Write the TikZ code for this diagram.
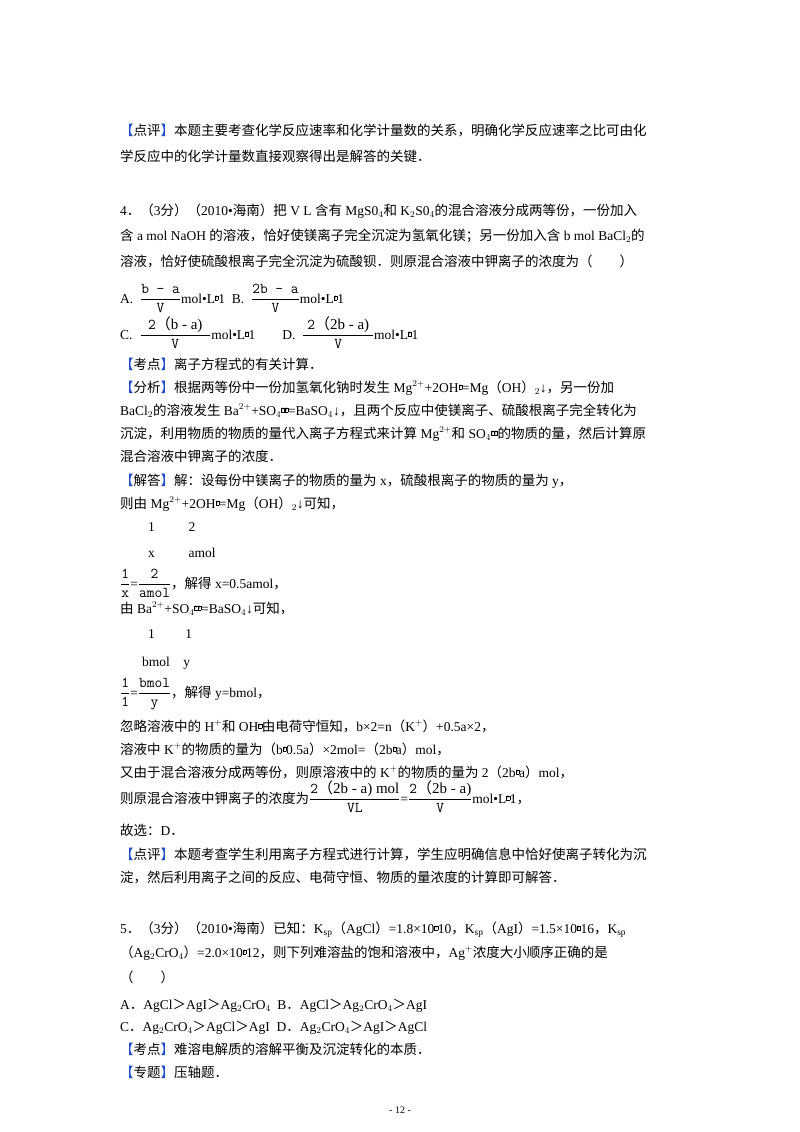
\documentclass[tikz,border=0pt]{standalone}
\usepackage{fontspec}
\usepackage{amsmath}
\setmainfont{Liberation Serif}
\newfontfamily\cjk{Noto Sans CJK SC}
\XeTeXinterchartokenstate=1
\newXeTeXintercharclass\cjkclass
\newcount\cc
\cc="4E00 \loop\ifnum\cc<"9FFF \XeTeXcharclass\cc=\cjkclass \advance\cc 1 \repeat
\cc="3000 \loop\ifnum\cc<"3040 \XeTeXcharclass\cc=\cjkclass \advance\cc 1 \repeat
\cc="FF00 \loop\ifnum\cc<"FFF0 \XeTeXcharclass\cc=\cjkclass \advance\cc 1 \repeat
\XeTeXinterchartoks 0 \cjkclass={\cjk}
\XeTeXinterchartoks 4095 \cjkclass={\cjk}
\XeTeXinterchartoks \cjkclass 0={\rmfamily}
\XeTeXinterchartoks \cjkclass 4095={\rmfamily}
\newcommand\qm{{\setlength\fboxsep{0.3pt}\setlength\fboxrule{0.3pt}\raisebox{0.5ex}{\fbox{\fontsize{5}{5}\selectfont ?}}}}
\newcommand\bk[1]{{\color[HTML]{1F4FC8}【}#1{\color[HTML]{1F4FC8}】}}
\newcommand\fr[2]{$\dfrac{\mbox{\fontsize{15}{15}\selectfont\ttfamily #1}}{\mbox{\fontsize{15}{15}\selectfont\ttfamily #2}}$}
\begin{document}
\begin{tikzpicture}[x=1pt,y=-1pt,every node/.style={anchor=base west,inner sep=0,font=\fontsize{13.5}{16}\selectfont}]
\useasboundingbox[fill=white] (0,0) rectangle (800,1132);
\node (l1) at (120,135) {\bk{点评}本题主要考查化学反应速率和化学计量数的关系，明确化学反应速率之比可由化};
\node (l2) at (120,161) {学反应中的化学计量数直接观察得出是解答的关键．};
\node (l3) at (120,215) {4．（3分）（2010•海南）把 V L 含有 MgS0$_4$和 K$_2$S0$_4$的混合溶液分成两等份，一份加入};
\node (l4) at (120,240) {含 a mol NaOH 的溶液，恰好使镁离子完全沉淀为氢氧化镁；另一份加入含 b mol BaCl$_2$的};
\node (l5) at (120,266) {溶液，恰好使硫酸根离子完全沉淀为硫酸钡．则原混合溶液中钾离子的浓度为（　　）};
\node (oA) at (120,303) {A.\ \ \fr{b - a}{V}mol•L\qm{}1\ \ B.\ \ \fr{2b - a}{V}mol•L\qm{}1};
\node (oC) at (120,339) {C.\ \ \fr{2（b - a)}{\ \ \ \ V\ \ \ \ }mol•L\qm{}1\qquad D.\ \ \fr{2（2b - a)}{\ \ \ \ V\ \ \ \ }mol•L\qm{}1};
\node (k1) at (120,369) {\bk{考点}离子方程式的有关计算．};
\node (f1) at (120,392) {\bk{分析}根据两等份中一份加氢氧化钠时发生 Mg$^{2+}$+2OH\qm{}=Mg（OH）$_2$↓，另一份加};
\node (f2) at (120,415) {BaCl$_2$的溶液发生 Ba$^{2+}$+SO$_4$\qm{}\qm{}=BaSO$_4$↓，且两个反应中使镁离子、硫酸根离子完全转化为};
\node (f3) at (120,438) {沉淀，利用物质的物质的量代入离子方程式来计算 Mg$^{2+}$和 SO$_4$\qm{}\qm{}的物质的量，然后计算原};
\node (f4) at (120,461) {混合溶液中钾离子的浓度．};
\node (j1) at (120,485) {\bk{解答}解：设每份中镁离子的物质的量为 x，硫酸根离子的物质的量为 y，};
\node (j2) at (120,508) {则由 Mg$^{2+}$+2OH\qm{}=Mg（OH）$_2$↓可知，};
\node (j3) at (148,531) {1\qquad\ \ 2};
\node (j4) at (148,557) {x\qquad\ \ amol};
\node (j5) at (120,588) {\fr{1}{x}=\fr{2}{amol}，解得 x=0.5amol，};
\node (j6) at (120,613) {由 Ba$^{2+}$+SO$_4$\qm{}\qm{}=BaSO$_4$↓可知，};
\node (j7) at (148,638) {1\qquad\ 1};
\node (j8) at (142,666) {bmol\quad y};
\node (j9) at (120,697) {\fr{1}{1}=\fr{bmol}{y}，解得 y=bmol，};
\node (j10) at (120,731) {忽略溶液中的 H$^+$和 OH\qm{}由电荷守恒知，b×2=n（K$^+$）+0.5a×2，};
\node (j11) at (120,754) {溶液中 K$^+$的物质的量为（b\qm{}0.5a）×2mol=（2b\qm{}a）mol，};
\node (j12) at (120,777) {又由于混合溶液分成两等份，则原溶液中的 K$^+$的物质的量为 2（2b\qm{}a）mol，};
\node (j13) at (120,803) {则原混合溶液中钾离子的浓度为\fr{2（2b - a) mol}{VL}=\fr{2（2b - a)}{V}mol•L\qm{}1，};
\node (j14) at (120,835) {故选：D．};
\node (p1) at (120,859) {\bk{点评}本题考查学生利用离子方程式进行计算，学生应明确信息中恰好使离子转化为沉};
\node (p2) at (120,882) {淀，然后利用离子之间的反应、电荷守恒、物质的量浓度的计算即可解答．};
\node (q1) at (120,933) {5．（3分）（2010•海南）已知：K$_{\rm sp}$（AgCl）=1.8×10\qm{}10，K$_{\rm sp}$（AgI）=1.5×10\qm{}16，K$_{\rm sp}$};
\node (q2) at (120,957) {（Ag$_2$CrO$_4$）=2.0×10\qm{}12，则下列难溶盐的饱和溶液中，Ag$^+$浓度大小顺序正确的是};
\node (q3) at (120,982) {（　　）};
\node (q4) at (120,1009) {A．AgCl＞AgI＞Ag$_2$CrO$_4$\ \ B．AgCl＞Ag$_2$CrO$_4$＞AgI};
\node (q5) at (120,1031) {C．Ag$_2$CrO$_4$＞AgCl＞AgI\ \ D．Ag$_2$CrO$_4$＞AgI＞AgCl};
\node (q6) at (120,1054) {\bk{考点}难溶电解质的溶解平衡及沉淀转化的本质．};
\node (q7) at (120,1077) {\bk{专题}压轴题．};
\node[anchor=base,font=\fontsize{10}{12}\selectfont] (pg) at (400,1113) {- 12 -};
\end{tikzpicture}
\end{document}
